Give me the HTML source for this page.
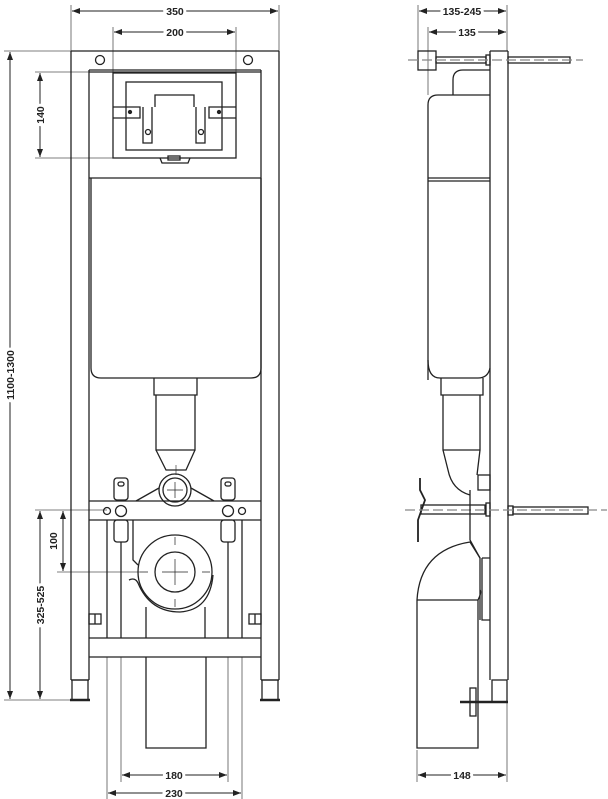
<!DOCTYPE html>
<html><head><meta charset="utf-8"><style>
html,body{margin:0;padding:0;background:#fff}
svg{display:block}
text{font-family:"Liberation Sans",sans-serif;font-size:10.5px;font-weight:bold;fill:#222}
</style></head><body>
<svg width="608" height="799" viewBox="0 0 608 799" xmlns="http://www.w3.org/2000/svg">
<defs>
<marker id="a" markerWidth="8" markerHeight="6" refX="8" refY="3" orient="auto-start-reverse" markerUnits="userSpaceOnUse"><path d="M0,0 L8,3 L0,6 z" fill="#222"/></marker>
</defs>
<g stroke="#222" stroke-width="1.3" fill="none">
<g stroke="#555" stroke-width="0.8">
<line x1="71" y1="5" x2="71" y2="51"/><line x1="279" y1="5" x2="279" y2="51"/>
<line x1="113" y1="27" x2="113" y2="72"/><line x1="236" y1="27" x2="236" y2="72"/>
<line x1="4" y1="51" x2="71" y2="51"/><line x1="4" y1="700" x2="71" y2="700"/>
<line x1="35" y1="72" x2="113" y2="72"/><line x1="35" y1="158" x2="113" y2="158"/>
<line x1="35" y1="510" x2="107" y2="510"/><line x1="57" y1="572" x2="140" y2="572"/>
<line x1="121" y1="657" x2="121" y2="782"/><line x1="228" y1="657" x2="228" y2="782"/>
<line x1="107" y1="657" x2="107" y2="799"/><line x1="242" y1="657" x2="242" y2="799"/>
<line x1="418" y1="5" x2="418" y2="51"/><line x1="507" y1="5" x2="507" y2="51"/>
<line x1="428" y1="27" x2="428" y2="95"/>
<line x1="417" y1="750" x2="417" y2="782"/><line x1="507" y1="702" x2="507" y2="782"/>
</g>
<g stroke-width="1">
<line x1="72" y1="11" x2="278" y2="11" marker-start="url(#a)" marker-end="url(#a)"/>
<line x1="114" y1="32" x2="235" y2="32" marker-start="url(#a)" marker-end="url(#a)"/>
<line x1="10" y1="52" x2="10" y2="699" marker-start="url(#a)" marker-end="url(#a)"/>
<line x1="40" y1="73" x2="40" y2="157" marker-start="url(#a)" marker-end="url(#a)"/>
<line x1="63" y1="511" x2="63" y2="571" marker-start="url(#a)" marker-end="url(#a)"/>
<line x1="40" y1="511" x2="40" y2="699" marker-start="url(#a)" marker-end="url(#a)"/>
<line x1="122" y1="775" x2="227" y2="775" marker-start="url(#a)" marker-end="url(#a)"/>
<line x1="108" y1="793" x2="241" y2="793" marker-start="url(#a)" marker-end="url(#a)"/>
<line x1="419" y1="11" x2="506" y2="11" marker-start="url(#a)" marker-end="url(#a)"/>
<line x1="429" y1="32" x2="506" y2="32" marker-start="url(#a)" marker-end="url(#a)"/>
<line x1="418" y1="775" x2="506" y2="775" marker-start="url(#a)" marker-end="url(#a)"/>
</g>

<line x1="71" y1="51" x2="279" y2="51"/><line x1="89" y1="70" x2="261" y2="70"/>
<line x1="71" y1="51" x2="71" y2="680"/><line x1="89" y1="70" x2="89" y2="680"/>
<line x1="261" y1="70" x2="261" y2="680"/><line x1="279" y1="51" x2="279" y2="680"/>
<line x1="71" y1="680" x2="89" y2="680"/><line x1="261" y1="680" x2="279" y2="680"/>
<rect x="72" y="680" width="16" height="20"/><rect x="262" y="680" width="16" height="20"/>
<line x1="70" y1="700" x2="90" y2="700" stroke-width="2.5"/><line x1="260" y1="700" x2="280" y2="700" stroke-width="2.5"/>
<circle cx="100" cy="60" r="4.5"/><circle cx="248" cy="60" r="4.5"/>
<line x1="89" y1="72" x2="261" y2="72"/>
<rect x="113" y="73" width="123" height="85"/>
<rect x="126" y="82" width="96" height="68"/>
<path d="M113,107 H140 V118 H113"/><path d="M236,107 H209 V118 H236"/>
<circle cx="130" cy="112" r="1.5" fill="#222"/><circle cx="219" cy="112" r="1.5" fill="#222"/>
<path d="M143,107 V143 H152 V107 M155,107 V95 H194 V107 M196,107 V143 H205 V107"/>
<circle cx="148" cy="132" r="2.5"/><circle cx="201" cy="132" r="2.5"/>
<path d="M160,158 L162,163 H188 L190,158"/><rect x="168" y="156" width="12" height="4"/>
<line x1="89" y1="178" x2="261" y2="178"/>
<path d="M91,178 V368 Q91,378 101,378 H251 Q261,378 261,368 V178"/>
<path d="M154,378 V395 H197 V378 M156,395 V450 H195 V395 M156,450 L166,470 H186 L195,450"/>
<line x1="176" y1="465" x2="176" y2="475" stroke-width="0.6"/>
<line x1="89" y1="501" x2="261" y2="501"/><line x1="89" y1="520" x2="261" y2="520"/>
<circle cx="175" cy="490" r="16"/><circle cx="175" cy="490" r="12"/>
<path d="M167,490 h16 M175,482 v16" stroke-width="0.7"/>
<path d="M159,488 L136,501 M191,488 L214,501"/>
<rect x="114" y="478" width="14" height="22" rx="3"/><rect x="221" y="478" width="14" height="22" rx="3"/>
<rect x="118" y="482" width="6" height="4" rx="2"/><rect x="225" y="482" width="6" height="4" rx="2"/>
<rect x="114" y="520" width="14" height="22" rx="3"/><rect x="221" y="520" width="14" height="22" rx="3"/>
<circle cx="107" cy="511" r="3.5"/><circle cx="121" cy="511" r="5.5"/>
<circle cx="228" cy="511" r="5.5"/><circle cx="242" cy="511" r="3.5"/>
<path d="M133,520 V560 L138,565"/>
<circle cx="175" cy="572" r="37"/><circle cx="175" cy="572" r="20"/>
<path d="M129,580 Q135,577 138,583 Q150,612 180,612 Q210,610 213,575" />
<path d="M162,572 h26 M175,559 v26 M140,572 h8 M202,572 h8 M175,537 v8 M175,599 v8" stroke-width="0.7"/>
<line x1="146" y1="607" x2="146" y2="638"/><line x1="205" y1="607" x2="205" y2="638"/>
<rect x="89" y="614" width="12" height="10"/><rect x="249" y="614" width="12" height="10"/>
<line x1="95" y1="614" x2="95" y2="624"/><line x1="255" y1="614" x2="255" y2="624"/>
<line x1="89" y1="638" x2="261" y2="638"/><line x1="89" y1="657" x2="261" y2="657"/>
<line x1="107" y1="520" x2="107" y2="638"/><line x1="121" y1="542" x2="121" y2="638"/>
<line x1="228" y1="542" x2="228" y2="638"/><line x1="242" y1="520" x2="242" y2="638"/>
<path d="M146,657 V748 H206 V657"/>

<line x1="490" y1="51" x2="490" y2="680"/><line x1="508" y1="51" x2="508" y2="680"/>
<line x1="490" y1="51" x2="508" y2="51"/>
<rect x="492" y="680" width="15" height="22"/>
<line x1="460" y1="702" x2="508" y2="702" stroke-width="2.5"/>
<rect x="470" y="688" width="6" height="28"/>
<rect x="418" y="51" width="18" height="19"/>
<rect x="436" y="57" width="50" height="6"/><rect x="486" y="55" width="4" height="10"/>
<rect x="508" y="57" width="62" height="6"/>
<line x1="408" y1="60" x2="583" y2="60" stroke="#888" stroke-dasharray="10 4"/>
<path d="M453,95 V80 Q453,70 463,70 H490"/>
<path d="M428,380 V105 Q428,95 438,95 H490"/>
<line x1="428" y1="178" x2="490" y2="178"/><line x1="428" y1="181" x2="490" y2="181"/>
<path d="M428,360 Q428,378 440,378 H478 Q488,378 490,368"/>
<path d="M441,378 V395 H483 V378 M443,395 V450 H480 V395 M443,450 L448,470 Q452,490 470,495 M480,450 L477,475"/>
<rect x="478" y="475" width="12" height="15"/>
<path d="M420,478 L420,490 L425,500 L418,520 L418,542" stroke-width="1.8"/>
<rect x="421" y="505" width="64" height="9"/><rect x="486" y="503" width="4" height="13"/>
<rect x="508" y="506" width="5" height="9"/><rect x="513" y="507" width="75" height="7"/>
<line x1="405" y1="510" x2="607" y2="510" stroke="#888" stroke-dasharray="10 4"/>
<path d="M470,490 V540 L480,558 V620 M482,558 H490 M482,558 V620 H490"/>
<path d="M417,600 Q420,550 470,542 L480,558"/>
<path d="M417,600 V748 H478 V600 Q482,592 480,590"/>
<line x1="417" y1="600" x2="478" y2="600"/>
</g>
<g text-anchor="middle">
<text x="175" y="15" stroke="#fff" stroke-width="6" style="paint-order:stroke">350</text>
<text x="175" y="36" stroke="#fff" stroke-width="6" style="paint-order:stroke">200</text>
<text x="462" y="15" stroke="#fff" stroke-width="6" style="paint-order:stroke">135-245</text>
<text x="467" y="36" stroke="#fff" stroke-width="6" style="paint-order:stroke">135</text>
<text x="174" y="779" stroke="#fff" stroke-width="6" style="paint-order:stroke">180</text>
<text x="174" y="797" stroke="#fff" stroke-width="6" style="paint-order:stroke">230</text>
<text x="462" y="779" stroke="#fff" stroke-width="6" style="paint-order:stroke">148</text>
<text transform="translate(14,375) rotate(-90)" stroke="#fff" stroke-width="6" style="paint-order:stroke">1100-1300</text>
<text transform="translate(44,115) rotate(-90)" stroke="#fff" stroke-width="6" style="paint-order:stroke">140</text>
<text transform="translate(57,541) rotate(-90)" stroke="#fff" stroke-width="6" style="paint-order:stroke">100</text>
<text transform="translate(44,605) rotate(-90)" stroke="#fff" stroke-width="6" style="paint-order:stroke">325-525</text>
</g>
</svg>
</body></html>
